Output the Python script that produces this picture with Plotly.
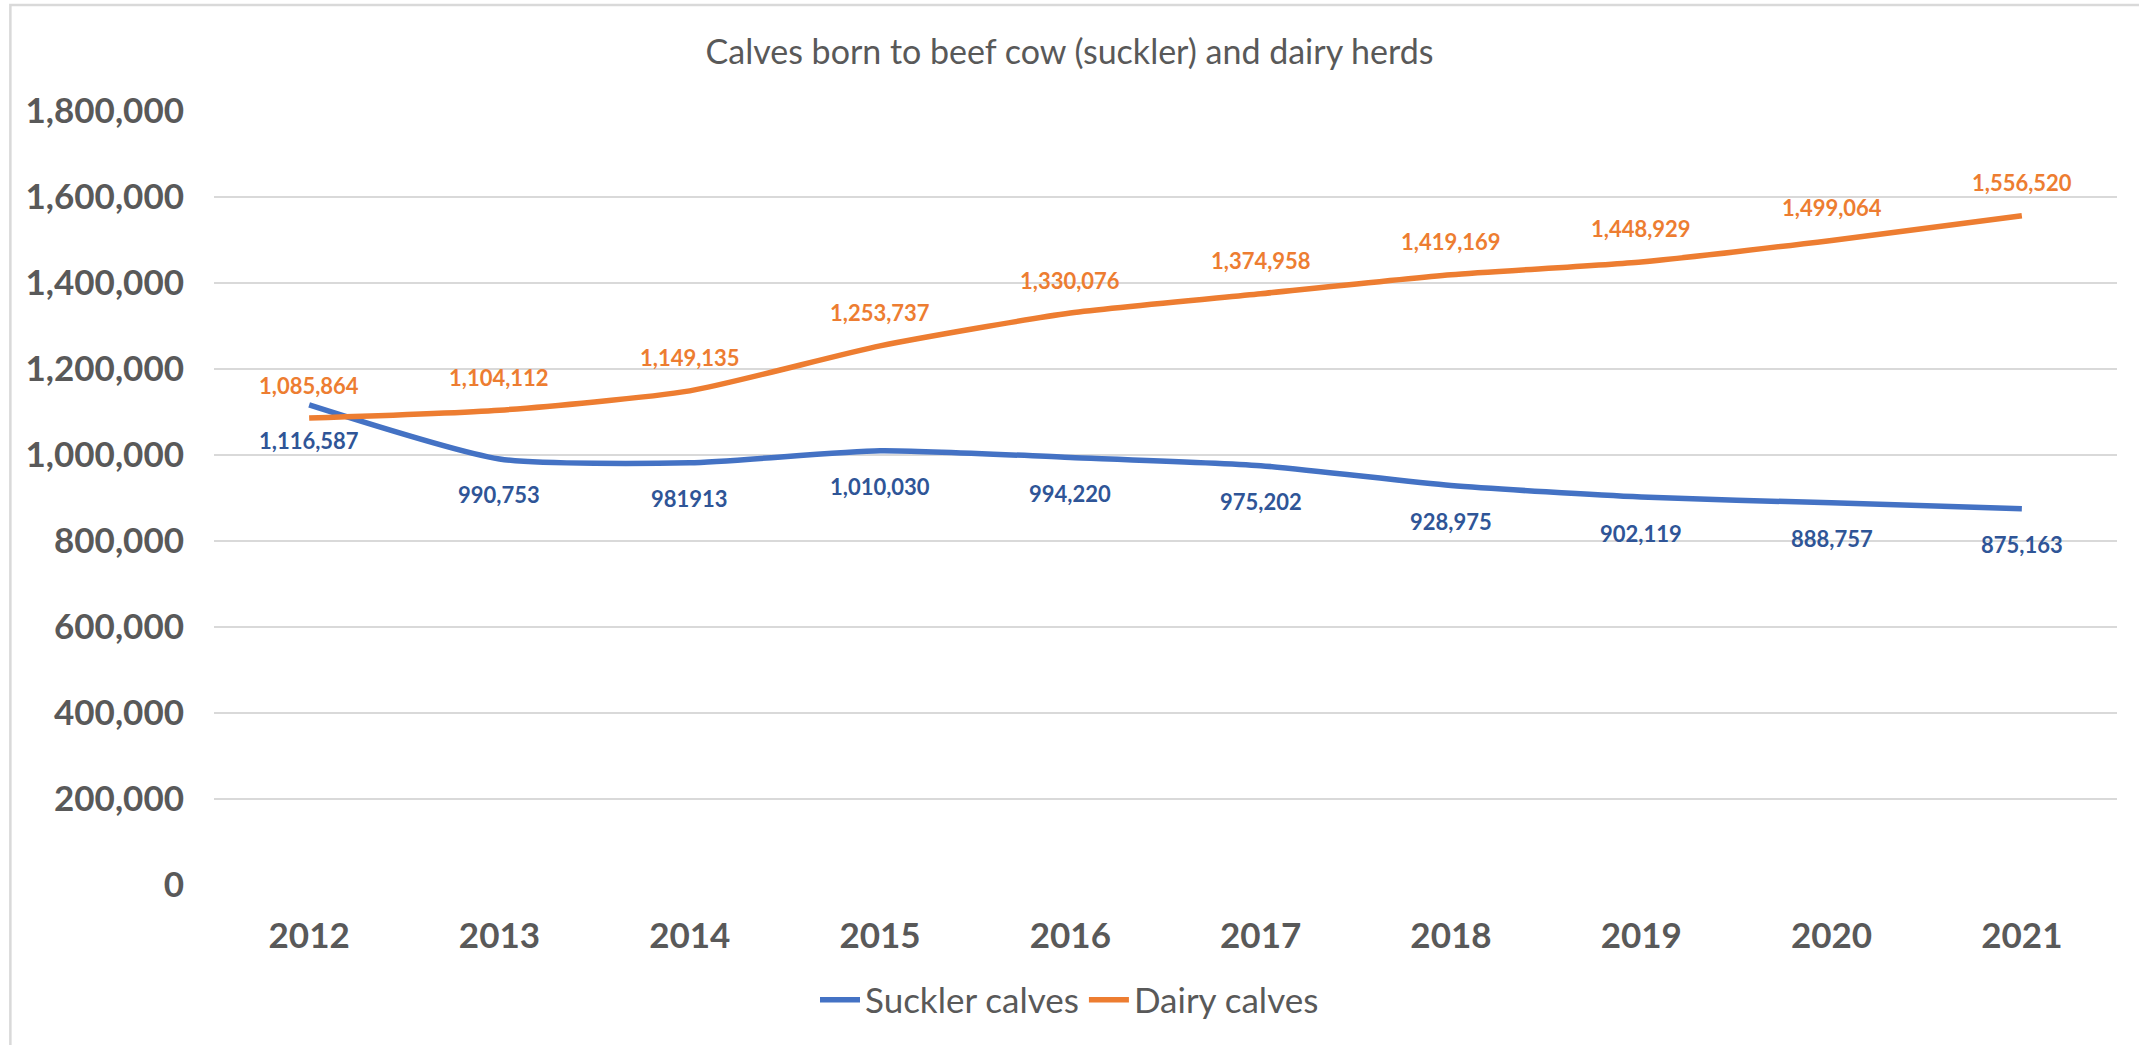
import plotly.graph_objects as go

years = ["2012", "2013", "2014", "2015", "2016", "2017", "2018", "2019", "2020", "2021"]
suckler = [1116587, 990753, 981913, 1010030, 994220, 975202, 928975, 902119, 888757, 875163]
dairy = [1085864, 1104112, 1149135, 1253737, 1330076, 1374958, 1419169, 1448929, 1499064, 1556520]
# labels as shown in the source (2014 suckler has no thousands separator there)
suckler_labels = ["1,116,587", "990,753", "981913", "1,010,030", "994,220",
                  "975,202", "928,975", "902,119", "888,757", "875,163"]
dairy_labels = [f"{v:,}" for v in dairy]
y_ticks = list(range(0, 1800001, 200000))

BLUE = "#4472C4"
ORANGE = "#ED7D31"
FONT = "Lato"

fig = go.Figure()
fig.add_trace(go.Scatter(x=years, y=suckler, name="Suckler calves", mode="lines",
                         line=dict(color=BLUE, width=5.5, shape="spline", smoothing=0.6)))
fig.add_trace(go.Scatter(x=years, y=dairy, name="Dairy calves", mode="lines",
                         line=dict(color=ORANGE, width=5.5, shape="spline", smoothing=0.6)))

# data labels: dairy above the line, suckler below (x given as category index)
for i, (y, t) in enumerate(zip(dairy, dairy_labels)):
    fig.add_annotation(x=i, y=y, text=f"<b>{t}</b>", showarrow=False, yshift=33,
                       font=dict(family=FONT, size=22, color=ORANGE))
for i, (y, t) in enumerate(zip(suckler, suckler_labels)):
    fig.add_annotation(x=i, y=y, text=f"<b>{t}</b>", showarrow=False, yshift=-36,
                       font=dict(family=FONT, size=22, color="#2F5597"))

# chart border (only top and left edge visible in the crop)
fig.add_shape(type="rect", xref="paper", yref="paper", x0=-0.107, x1=1.2, y0=-0.3, y1=1.137,
              line=dict(color="#D9D9D9", width=2.5), layer="below")

fig.update_layout(
    width=2139, height=1045,
    margin=dict(l=214, r=22, t=111, b=160),
    plot_bgcolor="white", paper_bgcolor="white",
    font=dict(family=FONT, color="#595959"),
    title=dict(text="Calves born to beef cow (suckler) and dairy herds",
               x=0.5, xref="container", xanchor="center",
               y=1 - 52 / 1045, yref="container", yanchor="middle",
               font=dict(family=FONT, size=34, color="#595959")),
    legend=dict(orientation="h", xref="container", yref="container",
                x=0.5, xanchor="center", y=1 - 1000 / 1045, yanchor="middle",
                font=dict(family=FONT, size=35, color="#595959"),
                itemwidth=40, traceorder="normal"),
    showlegend=True,
)
fig.update_xaxes(type="category", range=[-0.5, 9.5], showgrid=False, showline=False,
                 zeroline=False, ticks="", ticklabelstandoff=27,
                 tickfont=dict(family=FONT, size=35, color="#595959", weight="bold"))
fig.update_yaxes(range=[0, 1800000], tickvals=y_ticks, tickformat=",d",
                 showgrid=True, gridcolor="#D9D9D9", gridwidth=2, zeroline=False,
                 showline=False, ticks="", ticklabelstandoff=29,
                 tickfont=dict(family=FONT, size=35, color="#595959", weight="bold"))

# page body has a default margin; drop it so the figure fills the window exactly
fig.write_html("out.html", config={"displayModeBar": False},
               post_script="document.body.style.margin='0';")
